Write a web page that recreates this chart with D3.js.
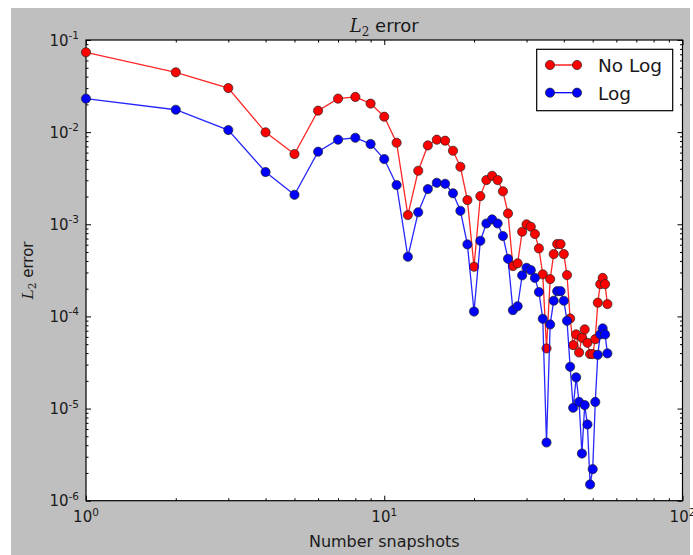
<!DOCTYPE html>
<html>
<head>
<meta charset="utf-8">
<script src="https://cdn.jsdelivr.net/npm/d3@7"></script>
<style>
  body { margin: 0; background: #ffffff; }
  svg { display: block; font-family: "DejaVu Sans", sans-serif; }
</style>
</head>
<body>
<svg id="chart" width="693" height="555"></svg>
<script>
// Number of snapshots used for each reconstruction
const snapshots = [1, 2, 3, 4, 5, 6, 7, 8, 9, 10,
  11, 12, 13, 14, 15, 16, 17, 18, 19, 20,
  21, 22, 23, 24, 25, 26, 27, 28, 29, 30,
  31, 32, 33, 34, 35, 36, 37, 38, 39, 40,
  41, 42, 43, 44, 45, 46, 47, 48, 49, 50,
  51, 52, 53, 54, 55, 56];

// L2 error without the log transform
const errNoLog = [0.0735, 0.0446, 0.0301, 0.00995, 0.00578, 0.0171, 0.0231, 0.0241, 0.0204, 0.0147,
  0.00767, 0.00126, 0.00381, 0.00718, 0.00828, 0.00807, 0.00628, 0.00421, 0.00183, 0.000346,
  0.00202, 0.00302, 0.00336, 0.00302, 0.00228, 0.00131, 0.000352, 0.000377, 0.00083, 0.000998,
  0.00094, 0.000783, 0.000547, 0.000286, 4.49e-5, 0.000254, 0.000475, 0.00061, 0.00061, 0.000475,
  0.000281, 9.5e-5, 4.88e-5, 6.38e-5, 4.06e-5, 5.86e-5, 7.23e-5, 5.17e-5, 3.9e-5, 3.9e-5,
  5.67e-5, 0.000141, 0.000224, 0.000262, 0.000224, 0.000136];

// L2 error with the log transform
const errLog = [0.0231, 0.0175, 0.01054, 0.00369, 0.00209, 0.00613, 0.00828, 0.00869, 0.00743, 0.0051,
  0.00267, 0.000444, 0.00135, 0.00241, 0.00282, 0.00275, 0.00217, 0.0014, 0.000605, 0.000113,
  0.000662, 0.00102, 0.00113, 0.00102, 0.000745, 0.000422, 0.000117, 0.000129, 0.000279, 0.000337,
  0.000318, 0.000262, 0.000184, 9.42e-5, 4.28e-6, 8.18e-5, 0.000148, 0.000188, 0.000188, 0.000148,
  8.95e-5, 2.84e-5, 1.02e-5, 2.18e-5, 1.18e-5, 3.25e-6, 1.09e-5, 6.72e-6, 1.5e-6, 2.2e-6,
  1.18e-5, 3.83e-5, 6.38e-5, 7.41e-5, 6.38e-5, 3.97e-5];

const seriesNames = ["No Log", "Log"];
const seriesColors = ["#ff0000", "#0000ff"];

// Decade exponents for the tick labels
const xTickExponents = [0, 1, 2];
const yTickExponents = [-6, -5, -4, -3, -2, -1];

const svg = d3.select("#chart");
const plot = { left: 86, top: 40, right: 682.5, bottom: 500.7 };

const x = d3.scaleLog().domain([1, 100]).range([plot.left, plot.right]);
const y = d3.scaleLog().domain([1e-6, 1e-1]).range([plot.bottom, plot.top]);

// Figure background
svg.append("rect").attr("x", 11).attr("y", 8).attr("width", 679).attr("height", 547)
  .attr("fill", "#bfbfbf");
svg.append("rect").attr("x", plot.left).attr("y", plot.top)
  .attr("width", plot.right - plot.left).attr("height", plot.bottom - plot.top)
  .attr("fill", "#ffffff");

// Major and minor tick positions on a log scale
function logTicks(lo, hi) {
  const major = [], minor = [];
  for (let e = lo; e <= hi; e++) {
    major.push(Math.pow(10, e));
    if (e < hi) for (let m = 2; m <= 9; m++) minor.push(m * Math.pow(10, e));
  }
  return { major, minor };
}
const xt = logTicks(0, 2);
const yt = logTicks(-6, -1);

function tickAxis(axisFn, scale, values, size, transform) {
  const g = svg.append("g").attr("transform", transform)
    .call(axisFn(scale).tickValues(values).tickSize(size).tickSizeOuter(0).tickFormat(""));
  g.select(".domain").remove();
  g.selectAll("line").attr("stroke", "#000").attr("stroke-width", 1);
  return g;
}
// Inward ticks on all four sides
tickAxis(d3.axisBottom, x, xt.major, -5, `translate(0,${plot.bottom})`);
tickAxis(d3.axisBottom, x, xt.minor, -2.5, `translate(0,${plot.bottom})`);
tickAxis(d3.axisTop, x, xt.major, -5, `translate(0,${plot.top})`);
tickAxis(d3.axisTop, x, xt.minor, -2.5, `translate(0,${plot.top})`);
tickAxis(d3.axisLeft, y, yt.major, -5, `translate(${plot.left},0)`);
tickAxis(d3.axisLeft, y, yt.minor, -2.5, `translate(${plot.left},0)`);
tickAxis(d3.axisRight, y, yt.major, -5, `translate(${plot.right},0)`);
tickAxis(d3.axisRight, y, yt.minor, -2.5, `translate(${plot.right},0)`);

// Frame
svg.append("rect").attr("x", plot.left).attr("y", plot.top)
  .attr("width", plot.right - plot.left).attr("height", plot.bottom - plot.top)
  .attr("fill", "none").attr("stroke", "#000").attr("stroke-width", 1.2);

// Power-of-ten tick labels
const textColor = "#1a1a1a";
function powerLabel(g, exp, anchor) {
  const t = g.append("text").attr("text-anchor", anchor).attr("fill", textColor)
    .style("font-size", "15px");
  t.append("tspan").text("10");
  t.append("tspan").attr("dy", -6.5).style("font-size", "10.5px").text(exp);
  return t;
}
yTickExponents.forEach(e => {
  const g = svg.append("g").attr("transform", `translate(79,${y(Math.pow(10, e)) + 5.5})`);
  powerLabel(g, e, "end");
});
xTickExponents.forEach(e => {
  const g = svg.append("g").attr("transform", `translate(${x(Math.pow(10, e))},522)`);
  powerLabel(g, e, "middle");
});

// Axis titles and chart title
function l2Text(g, size, subSize) {
  const t = g.append("text").attr("text-anchor", "middle").attr("fill", textColor)
    .style("font-size", size + "px");
  t.append("tspan").style("font-family", "'DejaVu Serif', serif").style("font-style", "italic").text("L");
  t.append("tspan").attr("dy", size * 0.22).style("font-family", "'DejaVu Serif', serif")
    .style("font-size", subSize + "px").text("2");
  t.append("tspan").attr("dy", -size * 0.22).text(" error");
  return t;
}
l2Text(svg.append("g").attr("transform", `translate(${(plot.left + plot.right) / 2},32)`), 18, 12);
l2Text(svg.append("g").attr("transform", `translate(33,${(plot.top + plot.bottom) / 2}) rotate(-90)`), 15, 10.5);
svg.append("text").attr("x", (plot.left + plot.right) / 2).attr("y", 547)
  .attr("text-anchor", "middle").attr("fill", textColor).style("font-size", "16px")
  .text("Number snapshots");

// Data series: line with circle markers
const line = d3.line().x(d => x(d.n)).y(d => y(d.v));
[errNoLog, errLog].forEach((vals, i) => {
  const pts = snapshots.map((n, k) => ({ n, v: vals[k] }));
  const g = svg.append("g");
  g.append("path").datum(pts).attr("d", line).attr("fill", "none")
    .attr("stroke", seriesColors[i]).attr("stroke-width", 1.3).attr("stroke-opacity", 0.85);
  g.selectAll("circle").data(pts).join("circle")
    .attr("cx", d => x(d.n)).attr("cy", d => y(d.v)).attr("r", 4.6)
    .attr("fill", seriesColors[i]).attr("stroke", "#222").attr("stroke-width", 0.7);
});

// Legend
const lg = svg.append("g");
lg.append("rect").attr("x", 536.7).attr("y", 49.3).attr("width", 136).attr("height", 61.4)
  .attr("fill", "#fff").attr("stroke", "#000").attr("stroke-width", 1.2);
seriesNames.forEach((name, i) => {
  const cy = 65 + i * 27.7;
  lg.append("line").attr("x1", 550).attr("x2", 577).attr("y1", cy).attr("y2", cy)
    .attr("stroke", seriesColors[i]).attr("stroke-width", 1.3);
  [550, 577].forEach(cx => lg.append("circle").attr("cx", cx).attr("cy", cy).attr("r", 4.6)
    .attr("fill", seriesColors[i]).attr("stroke", "#222").attr("stroke-width", 0.7));
  lg.append("text").attr("x", 598).attr("y", cy + 7).attr("fill", textColor)
    .style("font-size", "18.5px").text(name);
});
</script>
</body>
</html>
